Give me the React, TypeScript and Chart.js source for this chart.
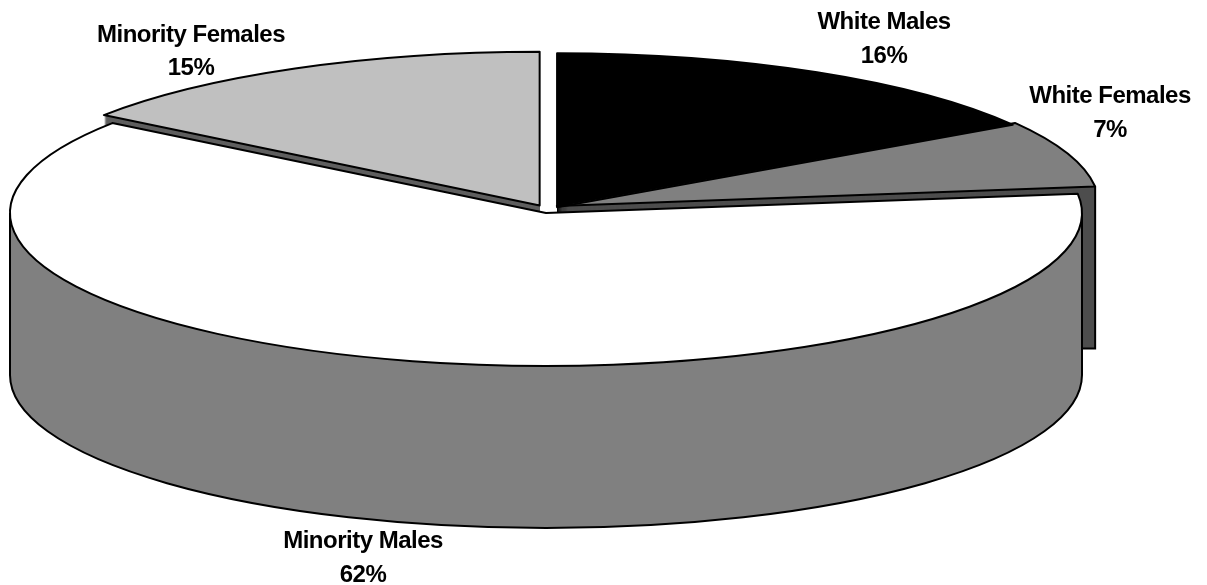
import { useEffect, useRef } from "react";
import { Chart, ArcElement, PieController } from "chart.js";

Chart.register(ArcElement, PieController);

// Workforce shares, clockwise from twelve o'clock.
const categories = ["White Males", "White Females", "Minority Males", "Minority Females"];
const shares = [16, 7, 62, 15];

const topColors = ["#000000", "#808080", "#ffffff", "#c0c0c0"];
const wallColors = ["#000000", "#4d4d4d", "#808080", "#5f5f5f"];
const explode = [92, 46, 0, 56];
// Extra upward shift of the pulled-out slices, in screen pixels.
const lift = [0, 6, 0, 4];

// Centre of each two-line label: name baseline and percentage baseline.
const labelAnchors = [
  { x: 884, name: 29, pct: 63 },
  { x: 1110, name: 103, pct: 137 },
  { x: 363, name: 548, pct: 582 },
  { x: 191, name: 42, pct: 75 },
];

const CX = 546;
const CY = 213;
const RADIUS = 536;
const SQUASH = 0.2854;
const DEPTH = 162;
const WIDTH = 1207;
const HEIGHT = 585;
const wallOrder = [0, 1, 3, 2];

type Geo = { cx: number; cy: number; r: number; start: number; end: number };

function geometry(arc: any): Geo {
  // Same displacement that ArcElement.draw applies for its offset option.
  const off = (arc.options.offset || 0) / 4;
  const mid = (arc.startAngle + arc.endAngle) / 2;
  const fix = 1 - Math.sin(Math.min(Math.PI, arc.circumference));
  return {
    cx: arc.x + Math.cos(mid) * off,
    cy: arc.y + Math.sin(mid) * off,
    r: arc.outerRadius + off * fix,
    start: arc.startAngle,
    end: arc.endAngle,
  };
}

function squashed(ctx: CanvasRenderingContext2D, dy: number) {
  ctx.translate(CX, CY + dy);
  ctx.scale(1, SQUASH);
  ctx.translate(-CX, -CY);
}

function toScreen(g: Geo, a: number, dy: number) {
  return {
    x: g.cx + Math.cos(a) * g.r,
    y: CY + dy + (g.cy + Math.sin(a) * g.r - CY) * SQUASH,
  };
}

function strokeWall(ctx: CanvasRenderingContext2D, g: Geo, color: string) {
  const angles = [g.start, g.end];
  for (const t of [0, Math.PI, Math.PI * 2]) {
    if (t >= g.start && t <= g.end) angles.push(t);
  }
  const pts = angles.map((a) => toScreen(g, a, 0));
  const left = pts.reduce((p, q) => (q.x < p.x ? q : p));
  const right = pts.reduce((p, q) => (q.x > p.x ? q : p));

  const from = Math.max(g.start, 0);
  const to = Math.min(g.end, Math.PI);
  if (from < to) {
    // Only the front part of the lower rim can be seen.
    ctx.beginPath();
    ctx.save();
    squashed(ctx, DEPTH);
    ctx.arc(g.cx, g.cy, g.r, from, to);
    ctx.restore();
    ctx.stroke();
    for (const p of [left, right]) {
      ctx.beginPath();
      ctx.moveTo(p.x, p.y);
      ctx.lineTo(p.x, p.y + DEPTH);
      ctx.stroke();
    }
  } else {
    // A slice at the back shows a flat strip behind the front slices.
    const inset = 40;
    ctx.fillStyle = color;
    ctx.fillRect(right.x - inset, right.y, inset, DEPTH);
    ctx.beginPath();
    ctx.moveTo(right.x - inset, right.y + DEPTH);
    ctx.lineTo(right.x, right.y + DEPTH);
    ctx.lineTo(right.x, right.y);
    ctx.stroke();
  }
}

const pie3d = {
  id: "pie3d",
  afterDatasetsUpdate(chart: any) {
    chart.getDatasetMeta(0).data.forEach((arc: any, i: number) => {
      arc.y -= lift[i] / SQUASH;
    });
  },
  beforeDatasetsDraw(chart: any) {
    const ctx: CanvasRenderingContext2D = chart.ctx;
    const arcs = chart.getDatasetMeta(0).data;
    ctx.lineWidth = 2;
    ctx.strokeStyle = "#000000";
    for (const i of wallOrder) {
      const arc = arcs[i];
      const saved = arc.options;
      arc.options = { ...saved, backgroundColor: wallColors[i] };
      for (let dy = DEPTH; dy >= 1; dy--) {
        ctx.save();
        squashed(ctx, dy);
        arc.draw(ctx);
        ctx.restore();
      }
      arc.options = saved;
      // Minority Females' tip sits beside the white wall, which hides its strip.
      if (i === 1 || i === 2) strokeWall(ctx, geometry(arc), wallColors[i]);
    }
    ctx.save();
    squashed(ctx, 0);
  },
  afterDatasetsDraw(chart: any) {
    const ctx: CanvasRenderingContext2D = chart.ctx;
    ctx.restore();
    const arcs = chart.getDatasetMeta(0).data;
    ctx.lineWidth = 2;
    ctx.lineJoin = "round";
    ctx.strokeStyle = "#000000";
    arcs.forEach((arc: any) => {
      const g = geometry(arc);
      ctx.beginPath();
      ctx.save();
      squashed(ctx, 0);
      ctx.moveTo(g.cx, g.cy);
      ctx.arc(g.cx, g.cy, g.r, g.start, g.end);
      ctx.closePath();
      ctx.restore();
      ctx.stroke();
    });
    ctx.save();
    ctx.fillStyle = "#000000";
    ctx.font = 'bold 24px "Liberation Sans", Arial, sans-serif';
    (ctx as any).letterSpacing = "-0.5px";
    ctx.textAlign = "center";
    ctx.textBaseline = "alphabetic";
    categories.forEach((name, i) => {
      const a = labelAnchors[i];
      ctx.fillText(name, a.x, a.name);
      ctx.fillText(`${shares[i]}%`, a.x, a.pct);
    });
    ctx.restore();
  },
};

export default function App() {
  const ref = useRef<HTMLCanvasElement | null>(null);
  useEffect(() => {
    document.body.style.margin = "0";
    const chart = new Chart(ref.current as HTMLCanvasElement, {
      type: "pie",
      data: {
        labels: categories,
        datasets: [
          {
            data: shares,
            backgroundColor: topColors,
            borderWidth: 0,
            offset: explode,
            radius: RADIUS,
            clip: false,
          } as any,
        ],
      },
      options: {
        animation: false,
        responsive: false,
        layout: {
          padding: { left: 0, top: 0, right: WIDTH - 2 * CX, bottom: HEIGHT - 2 * CY },
        },
        plugins: { legend: { display: false }, tooltip: { enabled: false } },
      },
      plugins: [pie3d],
    });
    return () => chart.destroy();
  }, []);
  return (
    <canvas
      ref={ref}
      width={WIDTH}
      height={HEIGHT}
      style={{ display: "block", width: WIDTH, height: HEIGHT, background: "#ffffff" }}
    />
  );
}
